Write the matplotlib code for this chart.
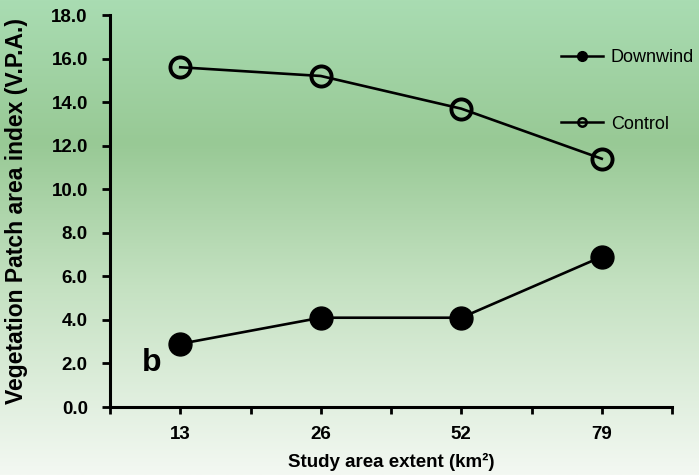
import numpy as np
import matplotlib
matplotlib.use("Agg")
import matplotlib.pyplot as plt
from matplotlib.colors import LinearSegmentedColormap

plt.rcParams["font.family"] = ["Liberation Sans", "DejaVu Sans"]

extent = ["13", "26", "52", "79"]
downwind = [2.9, 4.1, 4.1, 6.9]
control = [15.6, 15.2, 13.7, 11.4]
yticks = [0, 2, 4, 6, 8, 10, 12, 14, 16, 18]

fig = plt.figure(figsize=(6.99, 4.75), dpi=100)

# background gradient (light green top, darker middle, near white bottom)
bg = fig.add_axes([0, 0, 1, 1], zorder=-10)
cmap = LinearSegmentedColormap.from_list(
    "bg", [(0.0, "#a9dcb2"), (0.3, "#98c995"), (0.6, "#c4e1c1"), (1.0, "#f3f8f2")])
bg.imshow(np.linspace(0, 1, 256).reshape(-1, 1), aspect="auto", cmap=cmap,
          extent=[0, 1, 0, 1], origin="upper")
bg.axis("off")

ax = fig.add_axes([110 / 699, 68 / 475, 562 / 699, 392 / 475])
ax.patch.set_alpha(0)
x = np.arange(len(extent))

ax.plot(x, downwind, "-o", color="k", lw=1.9, ms=16.5, mfc="k", mec="k",
        clip_on=False, zorder=3)
ax.plot(x, control, "-o", color="k", lw=1.9, ms=14.5, mfc="none", mec="k",
        mew=2.8, clip_on=False, zorder=3)

ax.set_xlim(-0.5, 3.5)
ax.set_ylim(0, 18)
ax.set_yticks(yticks)
ax.set_yticklabels([f"{v:.1f}" for v in yticks], fontsize=13.5, fontweight="bold")
ax.set_xticks(x)
ax.set_xticklabels(extent, fontsize=13.5, fontweight="bold")
ax.set_xticks(np.arange(-0.5, 4, 1), minor=True)
ax.tick_params(axis="y", length=6, width=2, pad=10)
ax.tick_params(axis="x", which="both", length=5, width=2, pad=9)

for s in ["top", "right"]:
    ax.spines[s].set_visible(False)
for s in ["left", "bottom"]:
    ax.spines[s].set_linewidth(2.2)

ax.set_ylabel("Vegetation Patch area index (V.P.A.)", fontsize=16.5,
              fontweight="bold", labelpad=17)
ax.set_xlabel("Study area extent (km\u00b2)", fontsize=13.5, fontweight="bold",
              labelpad=7)

ax.text(-0.2, 2.0, "b", fontsize=23, fontweight="bold", ha="center", va="center")

# legend entries
h1, = ax.plot([], [], "-o", color="k", lw=1.8, ms=7, mfc="k")
h2, = ax.plot([], [], "-o", color="k", lw=1.8, ms=6, mfc="none", mew=1.8)
ax.legend([h1, h2], ["Downwind", "Control"], loc="upper left",
          bbox_to_anchor=(0.774, 0.955), frameon=False, fontsize=13,
          handlelength=2.3, labelspacing=2.75, handletextpad=0.45)

fig.savefig("out.png", dpi=100)
